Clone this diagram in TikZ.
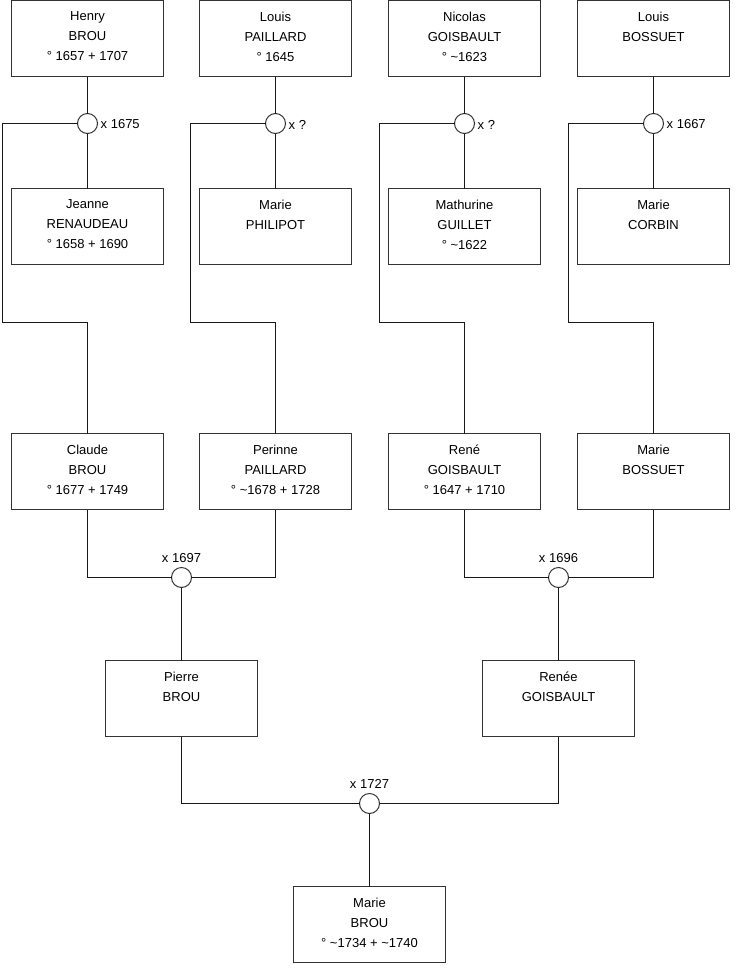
\documentclass[tikz,border=0pt]{standalone}
\usepackage{fontspec}
\setmainfont{Liberation Sans}
\begin{document}
\begin{tikzpicture}[x=1pt,y=-1pt,
  pbox/.style={draw=black!80,line width=1pt,minimum width=152pt,minimum height=76pt,inner sep=0pt,outer sep=0pt,fill=white},
  ptext/.style={anchor=north,inner sep=0pt,align=center,font=\fontsize{13}{20}\selectfont},
  mcirc/.style={circle,draw=black!80,line width=1pt,minimum size=20pt,inner sep=0pt,outer sep=0pt,fill=white},
  mlab/.style={inner sep=0pt,font=\fontsize{13}{16}\selectfont},
  conn/.style={draw=black!90,line width=1pt}]
\fill[white] (0,0) rectangle (740,975);
\useasboundingbox (0,0) rectangle (740,975);
\newcommand{\person}[4]{%
  \node[pbox] (#1) at (#2) {};
  \node[ptext] (#1t) at ([yshift=-11pt]#1.north) {#3};}
% generation 1
\person{henry}{87.5,38.5}{Henry\\BROU\\° 1657 + 1707}{}
\person{louisp}{275.5,38.5}{Louis\\PAILLARD\\° 1645}{}
\person{nicolas}{464.5,38.5}{Nicolas\\GOISBAULT\\° \textasciitilde1623}{}
\person{louisb}{653.5,38.5}{Louis\\BOSSUET}{}
\person{jeanne}{87.5,226.5}{Jeanne\\RENAUDEAU\\° 1658 + 1690}{}
\person{mariep}{275.5,226.5}{Marie\\PHILIPOT}{}
\person{mathurine}{464.5,226.5}{Mathurine\\GUILLET\\° \textasciitilde1622}{}
\person{mariec}{653.5,226.5}{Marie\\CORBIN}{}
% generation 2
\person{claude}{87.5,471.5}{Claude\\BROU\\° 1677 + 1749}{}
\person{perinne}{275.5,471.5}{Perinne\\PAILLARD\\° \textasciitilde1678 + 1728}{}
\person{rene}{464.5,471.5}{René\\GOISBAULT\\° 1647 + 1710}{}
\person{marieb}{653.5,471.5}{Marie\\BOSSUET}{}
% generation 3
\person{pierre}{181.5,698.5}{Pierre\\BROU}{}
\person{renee}{558.5,698.5}{Renée\\GOISBAULT}{}
% generation 4
\person{marie}{369.5,924.5}{Marie\\BROU\\° \textasciitilde1734 + \textasciitilde1740}{}
% marriages
\node[mcirc] (m1) at (87.5,123.5) {};
\node[mcirc] (m2) at (275.5,123.5) {};
\node[mcirc] (m3) at (464.5,123.5) {};
\node[mcirc] (m4) at (653.5,123.5) {};
\node[mcirc] (g1) at (181.5,577.5) {};
\node[mcirc] (g2) at (558.5,577.5) {};
\node[mcirc] (g3) at (369.5,803.5) {};
\node[mlab,anchor=west] (l1) at ([xshift=3pt,yshift=-1pt]m1.east) {x 1675};
\node[mlab,anchor=west] (l2) at ([xshift=3pt,yshift=-1pt]m2.east) {x ?};
\node[mlab,anchor=west] (l3) at ([xshift=3pt,yshift=-1pt]m3.east) {x ?};
\node[mlab,anchor=west] (l4) at ([xshift=3pt,yshift=-1pt]m4.east) {x 1667};
\node[mlab,anchor=base] (l5) at ([yshift=5pt]g1.north) {x 1697};
\node[mlab,anchor=base] (l6) at ([yshift=5pt]g2.north) {x 1696};
\node[mlab,anchor=base] (l7) at ([yshift=5pt]g3.north) {x 1727};
% corner coordinates
\coordinate (t1) at (2.5,322.5);
\coordinate (t2) at (190.5,322.5);
\coordinate (t3) at (379.5,322.5);
\coordinate (t4) at (568.5,322.5);
% connectors generation 1
\draw[conn] (henry.south) -- (m1.north) (m1.south) -- (jeanne.north);
\draw[conn] (louisp.south) -- (m2.north) (m2.south) -- (mariep.north);
\draw[conn] (nicolas.south) -- (m3.north) (m3.south) -- (mathurine.north);
\draw[conn] (louisb.south) -- (m4.north) (m4.south) -- (mariec.north);
\draw[conn] (m1.west) -| (t1) -| (claude.north);
\draw[conn] (m2.west) -| (t2) -| (perinne.north);
\draw[conn] (m3.west) -| (t3) -| (rene.north);
\draw[conn] (m4.west) -| (t4) -| (marieb.north);
% connectors generation 2
\draw[conn] (claude.south) |- (g1.west);
\draw[conn] (perinne.south) |- (g1.east);
\draw[conn] (g1.south) -- (pierre.north);
\draw[conn] (rene.south) |- (g2.west);
\draw[conn] (marieb.south) |- (g2.east);
\draw[conn] (g2.south) -- (renee.north);
% connectors generation 3
\draw[conn] (pierre.south) |- (g3.west);
\draw[conn] (renee.south) |- (g3.east);
\draw[conn] (g3.south) -- (marie.north);
\end{tikzpicture}
\end{document}
